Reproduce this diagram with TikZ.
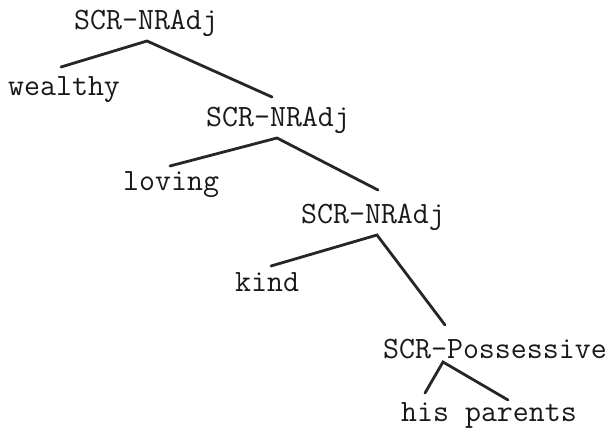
\documentclass[tikz,border=0pt]{standalone}
\usepackage{fontspec}
\begin{document}
\begin{tikzpicture}[x=1pt,y=-1pt,
  lbl/.style={anchor=base west,inner sep=0pt,font=\ttfamily\fontsize{31}{35}\selectfont,text=black!90},
  branch/.style={line width=2.8pt,draw=black!85,line cap=round}]
\useasboundingbox (0,0) rectangle (615,428);
\node[lbl] (n1) at (74,30) {SCR-NRAdj};
\node[lbl] (w) at (8,95) {wealthy};
\node[lbl] (n2) at (206,126) {SCR-NRAdj};
\node[lbl] (lv) at (123,190) {loving};
\node[lbl] (n3) at (301,223) {SCR-NRAdj};
\node[lbl] (k) at (235,291) {kind};
\node[lbl] (ps) at (383,358) {SCR-Possessive};
\node[lbl] (hp) at (401,421) {his parents};
\coordinate (a1) at (147,41);
\coordinate (l1) at (61,67);
\coordinate (r1) at (272,97);
\coordinate (a2) at (277,138);
\coordinate (l2) at (170,166);
\coordinate (r2) at (378,190);
\coordinate (a3) at (377,235);
\coordinate (l3) at (271,266);
\coordinate (r3) at (445,325);
\coordinate (a4) at (443,362);
\coordinate (l4) at (425,393);
\coordinate (r4) at (508,400);
\draw[branch] (l1) -- (a1) -- (r1);
\draw[branch] (l2) -- (a2) -- (r2);
\draw[branch] (l3) -- (a3) -- (r3);
\draw[branch] (l4) -- (a4) -- (r4);
\end{tikzpicture}
\end{document}
